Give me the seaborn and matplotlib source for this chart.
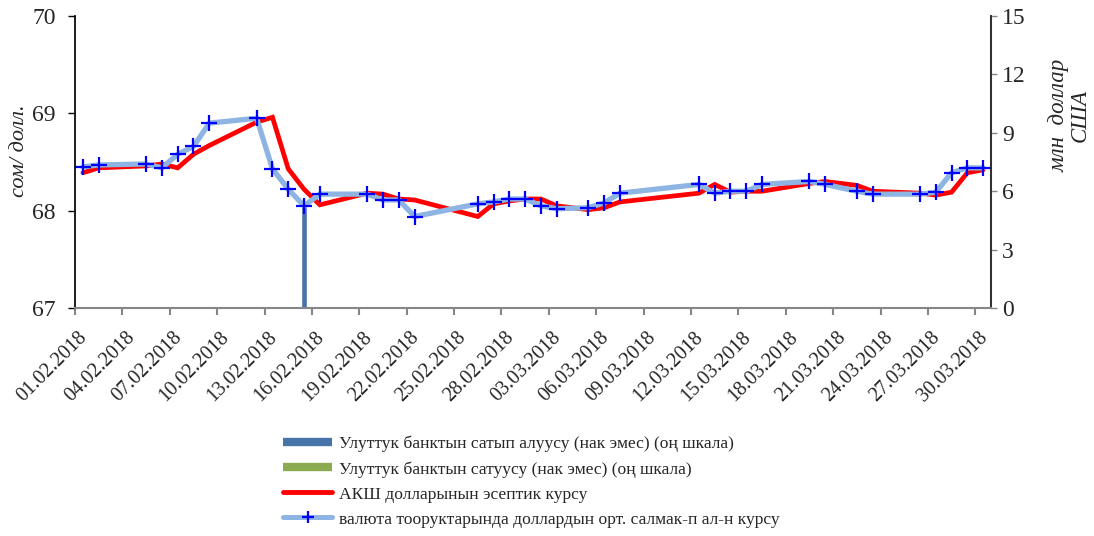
import pandas as pd
import seaborn as sns
import matplotlib.pyplot as plt
import matplotlib.dates as mdates
import matplotlib.transforms as mtransforms
from matplotlib.lines import Line2D

# business days, Feb-Mar 2018
dates = ['01.02.2018', '02.02.2018', '05.02.2018', '06.02.2018', '07.02.2018', '08.02.2018',
         '09.02.2018', '12.02.2018', '13.02.2018', '14.02.2018', '15.02.2018', '16.02.2018',
         '19.02.2018', '20.02.2018', '21.02.2018', '22.02.2018', '26.02.2018', '27.02.2018',
         '28.02.2018', '01.03.2018', '02.03.2018', '03.03.2018', '05.03.2018', '06.03.2018',
         '07.03.2018', '12.03.2018', '13.03.2018', '14.03.2018', '15.03.2018', '16.03.2018',
         '19.03.2018', '20.03.2018', '22.03.2018', '23.03.2018', '26.03.2018', '27.03.2018',
         '28.03.2018', '29.03.2018', '30.03.2018']

# official USD rate (som per dollar)
official = [68.39, 68.44, 68.46, 68.48, 68.44, 68.58, 68.67, 68.91, 68.96, 68.43, 68.22, 68.06,
            68.18, 68.17, 68.12, 68.11, 67.94, 68.07, 68.10, 68.12, 68.12, 68.05, 68.01, 68.03,
            68.09, 68.18, 68.27, 68.19, 68.20, 68.20, 68.28, 68.30, 68.26, 68.20, 68.18, 68.16,
            68.19, 68.39, 68.42]

# weighted average rate at the FX auctions
weighted = [68.45, 68.47, 68.48, 68.44, 68.58, 68.66, 68.90, 68.95, 68.43, 68.22, 68.05, 68.17,
            68.17, 68.11, 68.11, 67.94, 68.07, 68.09, 68.12, 68.12, 68.05, 68.02, 68.03, 68.08,
            68.18, 68.27, 68.18, 68.20, 68.20, 68.27, 68.30, 68.27, 68.20, 68.17, 68.17, 68.19,
            68.39, 68.44, 68.44]

# National bank purchases / sales, mln USD (right scale)
buy_dates = ['15.02.2018']
buy_values = [5.3]
sell_dates = []
sell_values = []

labels = ['Улуттук банктын сатып алуусу (нак эмес) (оң шкала)',
          'Улуттук банктын сатуусу (нак эмес) (оң шкала)',
          'АКШ долларынын эсептик курсу',
          'валюта тооруктарында доллардын орт. салмак-п ал-н курсу']

sns.set_theme(style='white')
plt.rcParams['font.family'] = ['Liberation Serif', 'DejaVu Serif']

half_day = pd.Timedelta(hours=12)
df = pd.DataFrame({'date': pd.to_datetime(dates, format='%d.%m.%Y') + half_day,
                   'official': official, 'weighted': weighted})
buy = pd.DataFrame({'date': pd.to_datetime(buy_dates, format='%d.%m.%Y') + half_day,
                    'value': buy_values})

fig = plt.figure(figsize=(10.94, 5.36), dpi=100)
ax = fig.add_axes([0.0686, 0.4254, 0.8373, 0.5446])
ax2 = ax.twinx()

ax2.bar(buy['date'], buy['value'], width=0.4, color='#4674a9', zorder=1)
ax2.set_ylim(0, 15)
ax2.set_yticks(range(0, 16, 3))

sns.lineplot(x='date', y='official', data=df, ax=ax, color='#ff0000', linewidth=3.4,
             solid_joinstyle='miter')
sns.lineplot(x='date', y='weighted', data=df, ax=ax, color='#8db4e2', linewidth=3.8,
             marker='+', markersize=11, markeredgewidth=1.6, markeredgecolor='#0000ff')

ax.set_zorder(ax2.get_zorder() + 1)
ax.patch.set_visible(False)

ax.set_ylim(67, 70)
ax.set_yticks([67, 68, 69, 70])
ax.set_xlim(pd.Timestamp('2018-02-01'), pd.Timestamp('2018-03-31'))
ax.set_xticks(pd.date_range('2018-02-01', '2018-03-30', freq='3D'))
ax.xaxis.set_major_formatter(mdates.DateFormatter('%d.%m.%Y'))

ax.set_xlabel('')
ax.set_ylabel('сом/ долл.', fontsize=16, style='italic')
ax.yaxis.set_label_coords(-0.05, 0.54)
ax2.set_ylabel('млн  доллар\nСША', fontsize=16.5, style='italic', rotation=90, linespacing=1.0)
ax2.yaxis.set_label_coords(1.063, 0.66)

ax.tick_params(axis='y', labelsize=17, length=5, width=1, color='black', direction='out',
               left=True, pad=9)
ax.tick_params(axis='x', labelsize=14.5, length=5, width=1.5, color='#868686', direction='out',
               bottom=True, pad=14)
ax2.tick_params(axis='y', labelsize=17, length=4, width=1, color='#868686', direction='out',
                right=True, pad=4)

# rotated date labels, nudged a little to the right of their ticks
shift = mtransforms.ScaledTranslation(0.095, 0, fig.dpi_scale_trans)
for lbl in ax.get_xticklabels():
    lbl.set_rotation(45)
    lbl.set_ha('right')
    lbl.set_va('center')
    lbl.set_rotation_mode('anchor')
    lbl.set_transform(lbl.get_transform() + shift)

for a in (ax, ax2):
    a.spines['top'].set_visible(False)
ax.spines['left'].set_color('black')
ax.spines['bottom'].set_color('#868686')
ax.spines['bottom'].set_linewidth(1.5)
ax2.spines['right'].set_color('#868686')
ax2.spines['right'].set_linewidth(1.5)
ax2.spines['left'].set_visible(False)
ax2.spines['bottom'].set_visible(False)

handles = [Line2D([], [], color='#4674a9', linewidth=6, solid_capstyle='butt'),
           Line2D([], [], color='#8aab4f', linewidth=6, solid_capstyle='butt'),
           Line2D([], [], color='#ff0000', linewidth=3.5, solid_capstyle='round'),
           Line2D([], [], color='#8db4e2', linewidth=3.6, marker='+', markersize=8,
                  markeredgewidth=1.6, markeredgecolor='#0000ff', solid_capstyle='round')]
fig.legend(handles, labels, loc='upper left', bbox_to_anchor=(0.259, 0.187), frameon=False,
           fontsize=12.6, handlelength=2.8, handletextpad=0.4, labelspacing=0.5,
           borderaxespad=0, borderpad=0)

fig.savefig('out.png', dpi=100)
